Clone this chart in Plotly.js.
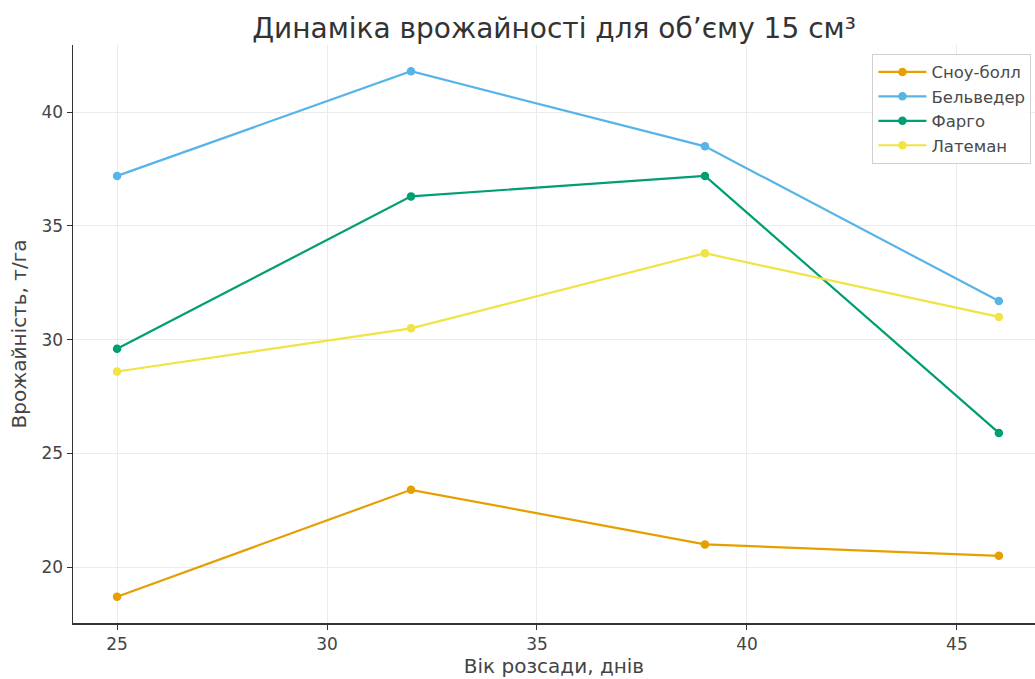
<!DOCTYPE html>
<html>
<head>
<meta charset="utf-8">
<script src="https://cdn.plot.ly/plotly-3.0.1.min.js"></script>
<style>
  html, body { margin: 0; padding: 0; background: #fff; }
  #chart { width: 1035px; height: 679px; }
</style>
</head>
<body>
<div id="chart"></div>
<script>
// Age of seedlings, days
const ages = [25, 32, 39, 46];

// Yield, t/ha, per cultivar
const varieties = ["Сноу-болл", "Бельведер", "Фарго", "Латеман"];
const snowball  = [18.7, 23.4, 21.0, 20.5];
const belvedere = [37.2, 41.8, 38.5, 31.7];
const fargo     = [29.6, 36.3, 37.2, 25.9];
const lateman   = [28.6, 30.5, 33.8, 31.0];

const colors = ["#E69F00", "#56B4E9", "#009E73", "#F0E442"];
const series = [snowball, belvedere, fargo, lateman];

const traces = series.map((vals, i) => ({
  x: ages,
  y: vals,
  name: varieties[i],
  type: "scatter",
  mode: "lines+markers",
  line: { color: colors[i], width: 2.2 },
  marker: { color: colors[i], size: 8.5 }
}));

const tickFont = { family: "DejaVu Sans, sans-serif", size: 17, color: "#444" };
const labelFont = { family: "DejaVu Sans, sans-serif", size: 20, color: "#444" };

const layout = {
  width: 1035,
  height: 679,
  paper_bgcolor: "#fff",
  plot_bgcolor: "#fff",
  margin: { l: 73, r: 0, t: 45, b: 56 },
  title: {
    text: "Динаміка врожайності для об’єму 15 см³",
    font: { family: "DejaVu Sans, sans-serif", size: 28, color: "#333" },
    x: 0.5, xref: "paper", xanchor: "center",
    y: 0.958, yref: "container", yanchor: "middle"
  },
  xaxis: {
    range: [23.95, 46.86],
    tickvals: [25, 30, 35, 40, 45],
    ticks: "outside", ticklen: 5, tickcolor: "#333",
    tickfont: tickFont,
    showgrid: true, gridcolor: "#ebebeb", gridwidth: 1,
    showline: true, linecolor: "#333", linewidth: 1.5,
    zeroline: false,
    title: { text: "Вік розсади, днів", font: labelFont, standoff: 4 }
  },
  yaxis: {
    range: [17.545, 42.955],
    tickvals: [20, 25, 30, 35, 40],
    ticks: "outside", ticklen: 5, tickcolor: "#333",
    tickfont: tickFont,
    showgrid: true, gridcolor: "#ebebeb", gridwidth: 1,
    showline: true, linecolor: "#333", linewidth: 1.5,
    zeroline: false,
    title: { text: "Врожайність, т/га", font: labelFont, standoff: 9 }
  },
  legend: {
    x: 0.831, y: 0.985, xanchor: "left", yanchor: "top",
    bgcolor: "rgba(255,255,255,0.9)",
    bordercolor: "#d0d0d0", borderwidth: 1,
    font: { family: "DejaVu Sans, sans-serif", size: 16.5, color: "#4a4a4a" },
    itemwidth: 48,
    tracegroupgap: 0
  },
  showlegend: true
};

Plotly.newPlot("chart", traces, layout, { displayModeBar: false, staticPlot: true });
</script>
</body>
</html>
